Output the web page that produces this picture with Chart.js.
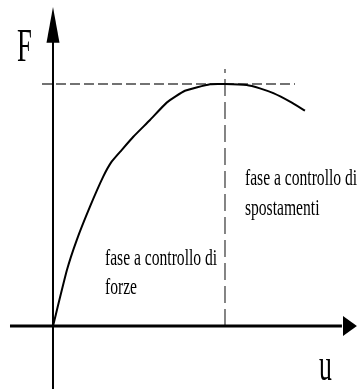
<!DOCTYPE html>
<html>
<head>
<meta charset="utf-8">
<script src="https://cdn.jsdelivr.net/npm/chart.js@4/dist/chart.umd.min.js"></script>
<style>
  html, body { margin: 0; padding: 0; background: #fff; }
  canvas { display: block; }
</style>
</head>
<body>
<canvas id="c" width="358" height="389"></canvas>
<script>
// force-displacement curve (u, F), peak normalised to 100/100
const curveU = [0, 8.1, 13.8, 21.5, 29.2, 34.1, 39.9, 46.7, 56.4, 66.1, 76.7, 91.3, 100, 112.6, 120.3, 128.1, 137.8, 146.5];
const curveF = [0, 23.1, 35.5, 49.3, 61.7, 67.9, 72.7, 78.2, 85.1, 92.3, 97.2, 99.9, 100, 99.6, 98.2, 96.2, 92.7, 89.0];

const peakU = 100;
const peakF = 100;
const hDashU = [-6.4, 140.7];   // extent of the horizontal dashed line
const vDashF = [0, 106.2];      // extent of the vertical dashed line

const phaseForze = ['fase a controllo di', 'forze'];
const phaseSpost = ['fase a controllo di', 'spostamenti'];

const X_MIN = -30.81, X_MAX = 177.33;
const Y_MIN = -26.03, Y_MAX = 134.71;

// axes with arrows + labels, drawn through the chart scales
const sketch = {
  id: 'sketch',
  afterDatasetsDraw(chart) {
    const { ctx, scales: { x, y } } = chart;
    const px = v => x.getPixelForValue(v);
    const py = v => y.getPixelForValue(v);
    ctx.save();
    ctx.strokeStyle = '#000';
    ctx.fillStyle = '#000';

    // vertical axis
    ctx.lineWidth = 2;
    ctx.beginPath();
    ctx.moveTo(px(0), py(Y_MIN));
    ctx.lineTo(px(0), py(120));
    ctx.stroke();
    ctx.beginPath();
    ctx.moveTo(px(0), py(131.8));
    ctx.lineTo(px(0) - 6.5, py(117));
    ctx.lineTo(px(0) + 6.5, py(117));
    ctx.closePath();
    ctx.fill();

    // horizontal axis
    ctx.lineWidth = 3;
    ctx.beginPath();
    ctx.moveTo(px(-25), py(0));
    ctx.lineTo(px(168), py(0));
    ctx.stroke();
    ctx.beginPath();
    ctx.moveTo(px(176.7), py(0));
    ctx.lineTo(px(168.6), py(0) - 10);
    ctx.lineTo(px(168.6), py(0) + 10);
    ctx.closePath();
    ctx.fill();

    const text = (s, u, f, size, sx) => {
      ctx.save();
      ctx.translate(px(u), py(f));
      ctx.scale(sx, 1);
      ctx.font = size + 'px "Liberation Serif", "Times New Roman", serif';
      ctx.textBaseline = 'alphabetic';
      ctx.fillText(s, 0, 0);
      ctx.restore();
    };
    text('F', -20.9, 109.5, 46, 0.58);
    text('u', 154.7, -22.3, 46, 0.56);
    text(phaseSpost[0], 111.6, 58.3, 24, 0.65);
    text(phaseSpost[1], 111.6, 45.9, 24, 0.65);
    text(phaseForze[0], 30.2, 25.2, 24, 0.65);
    text(phaseForze[1], 30.2, 13.2, 24, 0.65);
    ctx.restore();
  }
};

new Chart(document.getElementById('c'), {
  type: 'scatter',
  data: {
    datasets: [
      {
        data: curveU.map((u, i) => ({ x: u, y: curveF[i] })),
        showLine: true,
        borderColor: '#000',
        borderWidth: 2,
        pointRadius: 0,
        tension: 0.15,
      },
      {
        data: hDashU.map(u => ({ x: u, y: peakF })),
        showLine: true,
        borderColor: '#444',
        borderWidth: 1.3,
        borderDash: [10, 4],
        pointRadius: 0,
      },
      {
        data: vDashF.map(f => ({ x: peakU, y: f })),
        showLine: true,
        borderColor: '#444',
        borderWidth: 1.3,
        borderDash: [17, 6],
        pointRadius: 0,
      },
    ]
  },
  options: {
    responsive: false,
    animation: false,
    devicePixelRatio: 1,
    layout: { padding: 0 },
    plugins: { legend: { display: false }, tooltip: { enabled: false } },
    scales: {
      x: { type: 'linear', min: X_MIN, max: X_MAX, display: false },
      y: { type: 'linear', min: Y_MIN, max: Y_MAX, display: false }
    }
  },
  plugins: [sketch]
});
</script>
</body>
</html>
